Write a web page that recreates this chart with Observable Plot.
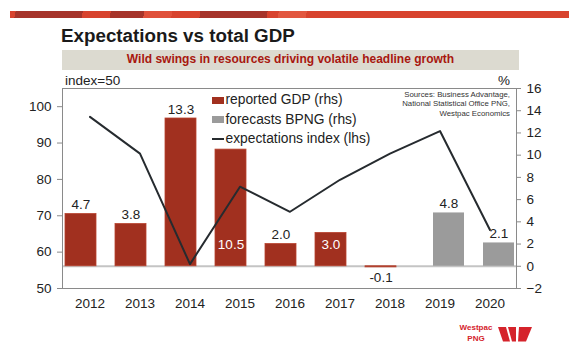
<!DOCTYPE html>
<html><head><meta charset="utf-8">
<script src="https://cdn.jsdelivr.net/npm/d3@7"></script>
<script src="https://cdn.jsdelivr.net/npm/@observablehq/plot@0.6"></script>
<style>
body{margin:0;background:#fff;font-family:"Liberation Sans",Arial,sans-serif;color:#222;}
#wrap{position:relative;width:580px;height:355px;overflow:hidden;background:#fff;}
.abs{position:absolute;white-space:nowrap;}
#banner{left:10px;top:11px;width:559px;height:6.5px;
 background:linear-gradient(100deg,#d8432e 0 1%,#a6342a 1% 13%,#d8432e 13% 18%,#a6342a 18% 24%,#e0503a 24% 29%,#d8432e 29% 34%,#a6342a 34% 46%,#d8432e 46% 48%,#e2573f 48% 53%,#d8432e 53% 100%);}
#title{left:61px;top:25px;font-size:18.8px;font-weight:bold;color:#1a1a1a;}
#sub{left:62px;top:50px;width:457px;height:19.5px;background:#dcdad0;color:#a8170f;font-weight:bold;font-size:12px;text-align:center;line-height:19.5px;}
.lab{font-size:13.5px;color:#222;line-height:14px;}
.leg{font-size:13.8px;color:#222;line-height:14px;}
.sw{position:absolute;}
#src{right:70px;top:90px;font-size:7.8px;line-height:9.3px;text-align:right;color:#333;}
#logo{left:452px;top:323px;width:48px;text-align:center;font-size:8px;font-weight:bold;color:#d5232b;line-height:10.5px;}
</style></head><body>
<div id="wrap">
 <div id="banner" class="abs"></div>
 <div id="title" class="abs">Expectations vs total GDP</div>
 <div id="sub" class="abs">Wild swings in resources driving volatile headline growth</div>
 <div id="chart" class="abs" style="left:0;top:80px;"></div>
 <div class="abs lab" style="left:65px;top:74px;">index=50</div>
 <div class="abs lab" style="left:498px;top:74px;">%</div>
 <div class="sw" style="left:212px;top:96.5px;width:12px;height:7px;background:#a1301f;"></div>
 <div class="abs leg" style="left:225.5px;top:93px;">reported GDP (rhs)</div>
 <div class="sw" style="left:212px;top:116px;width:12px;height:7px;background:#9b9b9b;"></div>
 <div class="abs leg" style="left:225.5px;top:112.5px;">forecasts BPNG (rhs)</div>
 <div class="sw" style="left:212px;top:138px;width:12px;height:2px;background:#262b2f;"></div>
 <div class="abs leg" style="left:225.5px;top:132px;">expectations index (lhs)</div>
 <div id="src" class="abs">Sources: Business Advantage,<br>National Statistical Office PNG,<br>Westpac Economics</div>
 <div id="logo" class="abs">Westpac<br>PNG</div>
 <svg class="abs" style="left:498px;top:327px;" width="34" height="15" viewBox="0 0 34 15">
  <polygon points="0,0 8,0 12,14.5 5,14.5" fill="#d5232b"/>
  <polygon points="10,0 18,0 18,14.5 14,14.5" fill="#d5232b"/>
  <polygon points="21,0 34,0 28,14.5 20,14.5" fill="#d5232b"/>
 </svg>
</div>
<script>
const years = ["2012","2013","2014","2015","2016","2017","2018","2019","2020"];
const gdpReported = [4.7, 3.8, 13.3, 10.5, 2.0, 3.0, -0.1, null, null];
const gdpForecast = [null, null, null, null, null, null, null, 4.8, 2.1];
const expectations = [97.2, 87.1, 56.7, 78.0, 71.1, 79.9, 87.1, 93.3, 66.1];
const labelPlacement = ["above","above","above","inside","above","inside","below","above","above"];
const lhsTicks = [50, 60, 70, 80, 90, 100];
const rhsTicks = [-2, 0, 2, 4, 6, 8, 10, 12, 14, 16];
const lhsDomain = [50, 105];
const rhsDomain = [-2, 16];

const toR = v => (v - lhsDomain[0]) / (lhsDomain[1] - lhsDomain[0]) * (rhsDomain[1] - rhsDomain[0]) + rhsDomain[0];
const toL = v => (v - rhsDomain[0]) / (rhsDomain[1] - rhsDomain[0]) * (lhsDomain[1] - lhsDomain[0]) + lhsDomain[0];

const reported = years.map((y, i) => ({year: y, v: gdpReported[i], pos: labelPlacement[i]})).filter(d => d.v != null);
const forecast = years.map((y, i) => ({year: y, v: gdpForecast[i], pos: labelPlacement[i]})).filter(d => d.v != null);
const line = years.map((y, i) => ({year: y, v: toR(expectations[i])}));
const fmt = d => d.v.toFixed(1);
const RED = "#a1301f", GRAY = "#9b9b9b";

function labels(data, dx) {
  return [
    Plot.text(data.filter(d => d.pos === "above"), {x: "year", y: "v", text: fmt, dx, dy: -9, fill: "#222", fontSize: 13.5}),
    Plot.text(data.filter(d => d.pos === "inside"), {x: "year", y: () => 0, text: fmt, dx, dy: -22, fill: "#fff", fontSize: 13.5}),
    Plot.text(data.filter(d => d.pos === "below"), {x: "year", y: "v", text: fmt, dx, dy: 10, fill: "#222", fontSize: 13.5})
  ];
}

const chart = Plot.plot({
  width: 580, height: 238,
  marginLeft: 62, marginRight: 64, marginTop: 8, marginBottom: 30,
  style: {fontFamily: "Liberation Sans, Arial, sans-serif", fontSize: "13.5px", color: "#222", background: "transparent"},
  x: {domain: years, paddingInner: 0.385, paddingOuter: 0.1925},
  y: {domain: rhsDomain},
  marks: [
    Plot.ruleY([0], {stroke: "#c4c4c4", strokeWidth: 2}),
    Plot.barY(reported, {x: "year", y: "v", fill: RED, stroke: "#b8432f", strokeWidth: 0.8, dx: -9}),
    Plot.barY(forecast, {x: "year", y: "v", fill: GRAY, dx: 9}),
    ...labels(reported, -9),
    ...labels(forecast, 9),
    Plot.line(line, {x: "year", y: "v", stroke: "#262b2f", strokeWidth: 2}),
    Plot.frame({stroke: "#8a8a8a"}),
    Plot.axisY(lhsTicks.map(toR), {anchor: "left", tickFormat: d => String(Math.round(toL(d))), tickSize: 5, tickPadding: 6, label: null, stroke: "#8a8a8a", fontSize: 13.5}),
    Plot.axisY(rhsTicks, {anchor: "right", tickSize: 4, tickPadding: 6, label: null, stroke: "#8a8a8a", fontSize: 13.5}),
    Plot.axisX({tickSize: 0, tickPadding: 10, label: null, fontSize: 13.5})
  ]
});
document.getElementById("chart").appendChild(chart);
</script>
</body></html>
